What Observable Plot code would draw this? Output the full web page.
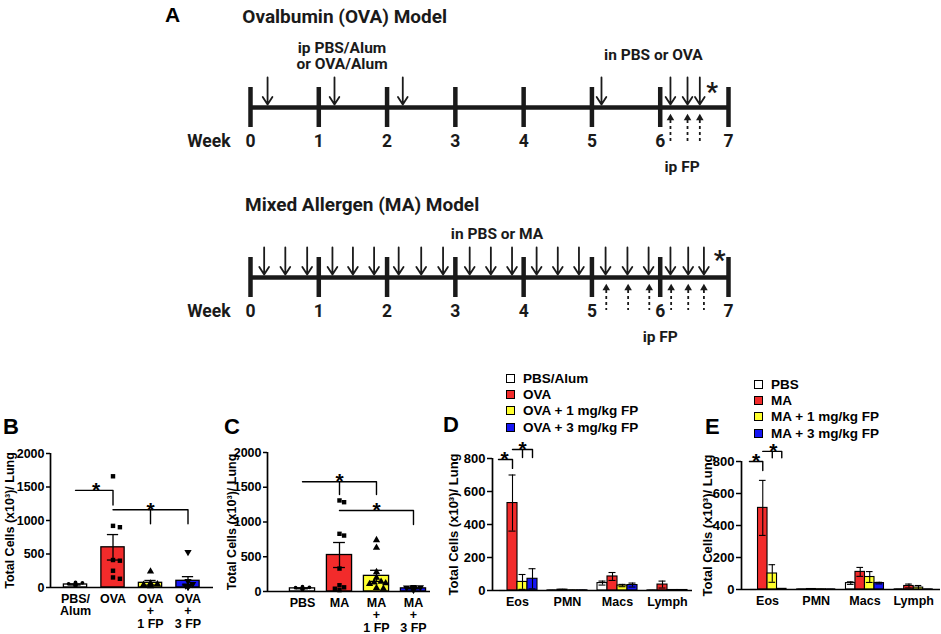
<!DOCTYPE html>
<html>
<head>
<meta charset="utf-8">
<script src="https://cdn.jsdelivr.net/npm/d3@7"></script>
<script src="https://cdn.jsdelivr.net/npm/@observablehq/plot@0.6"></script>
<style>
  html, body { margin: 0; padding: 0; background: #fff; }
  #fig { position: relative; width: 941px; height: 634px; overflow: hidden; background: #fff; color: #000;
         font-family: "Liberation Sans", Arial, sans-serif; font-weight: bold; }
  .letter { position: absolute; font-size: 22px; line-height: 22px; }
  .legend { position: absolute; font-size: 13.5px; }
  .legend .row { display: flex; align-items: center; height: 16.4px; white-space: nowrap; }
  .legend .sw { box-sizing: border-box; width: 9px; height: 9px; border: 1.4px solid #000; margin-right: 8px; }
</style>
</head>
<body>
<div id="fig"></div>
<script>
// ---------------- Panel A: study timelines ----------------
const weeks = [0, 1, 2, 3, 4, 5, 6, 7];
const ovaInjections = [0.25, 1.23, 2.23, 5.14, 6.15, 6.4, 6.58];
const ovaFPDoses = [6.15, 6.4, 6.58];
const maInjections = [0.2, 0.51, 0.83, 1.2, 1.5, 1.81, 2.17, 2.5, 2.82, 3.21, 3.52, 3.83,
                      4.19, 4.5, 4.81, 5.2, 5.52, 5.83, 6.15, 6.41, 6.64];
const maFPDoses = [5.21, 5.53, 5.84, 6.16, 6.41, 6.64];
const ovaTitle = "Ovalbumin (OVA) Model";
const maTitle = "Mixed Allergen (MA) Model";
const ovaNotes = ["ip PBS/Alum\nor OVA/Alum", "in PBS or OVA", "ip FP"];
const maNotes = ["in PBS or MA", "ip FP"];

// ---------------- Panels B, C: total cells ----------------
const ovaGroups = ["PBS/\nAlum", "OVA", "OVA\n+\n1 FP", "OVA\n+\n3 FP"];
const ovaTotalMean = [45, 600, 70, 100];
const ovaTotalSEM = [8, 190, 35, 62];
const ovaTotalPoints = [
  [75, 70, 55, 50, 45, 35, 30, 20],
  [1660, 920, 900, 410, 400, 250, 150, 130],
  [240, 60, 50, 40, 30, 25, 20],
  [530, 95, 50, 30, 20, 10, 10]
];
const ovaTotalBrackets = [
  [[0, 1450], [1, 1450], [1, 1230]],
  [[1, 1160], [3, 1160], [3, 950]],
  [[2, 1160], [2, 950]]
];
const ovaTotalStars = [[0.55, 1450], [2, 1160]];

const maGroups = ["PBS", "MA", "MA\n+\n1 FP", "MA\n+\n3 FP"];
const maTotalMean = [45, 525, 225, 45];
const maTotalSEM = [6, 180, 80, 6];
const maTotalPoints = [
  [70, 60, 55, 50, 45, 40, 35, 30, 25],
  [1310, 1285, 830, 805, 330, 90, 60, 40, 20],
  [740, 630, 280, 200, 140, 130, 120, 110, 50, 40],
  [65, 60, 55, 50, 45, 40, 35, 30, 25]
];
const maTotalBrackets = [
  [[0, 1580], [2, 1580], [2, 1395]],
  [[1, 1580], [1, 1395]],
  [[1, 1165], [3, 1165], [3, 965]]
];
const maTotalStars = [[1, 1580], [2, 1165]];

const totalTicks = [0, 500, 1000, 1500, 2000];
const groupColors = ["#ffffff", "#f22b2b", "#ffff2e", "#1616f5"];

// ---------------- Panels D, E: cell types ----------------
const cellTypes = ["Eos", "PMN", "Macs", "Lymph"];
const ovaSeries = ["PBS/Alum", "OVA", "OVA + 1 mg/kg FP", "OVA + 3 mg/kg FP"];
const maSeries = ["PBS", "MA", "MA + 1 mg/kg FP", "MA + 3 mg/kg FP"];
// rows = series, columns = cell types (Eos, PMN, Macs, Lymph)
const ovaCellMean = [[0, 0.5, 45, 0.5], [530, 5, 85, 36], [52, 1, 30, 3], [71, 1, 33, 3]];
const ovaCellSEM  = [[0, 0.3, 12, 0.3], [170, 2, 24, 21], [45, 0.5, 7, 1], [61, 0.5, 12, 1]];
const maCellMean  = [[0, 0.5, 40, 0.5], [510, 3, 110, 22], [100, 1, 78, 12], [4, 0.5, 40, 0.5]];
const maCellSEM   = [[0, 0.2, 8, 0.2], [172, 1, 28, 12], [55, 0.5, 34, 13], [1, 0.2, 5, 0.2]];
// brackets in [series index within the Eos group, value]
const ovaCellBrackets = [[[-0.4, 794], [1, 794], [1, 740]], [[1, 855], [3, 855], [3, 806]], [[2, 855], [2, 806]]];
const ovaCellStars = [[0.2, 794], [2, 855]];
const maCellBrackets = [[[-0.4, 800], [1, 800], [1, 744]], [[1, 863], [3, 863], [3, 823]], [[2, 863], [2, 823]]];
const maCellStars = [[0.3, 800], [2.1, 863]];
const cellTicks = [0, 200, 400, 600, 800];

const yLabel = "Total Cells (x10³)/ Lung";

// ---------------- helpers ----------------
const fig = document.getElementById("fig");
function put(node, left, top) {
  node.style.position = "absolute";
  node.style.left = left + "px";
  node.style.top = top + "px";
  fig.appendChild(node);
  return node;
}
const chartStyle = "font-family: 'Liberation Sans', Arial, sans-serif; font-size: 12px; font-weight: bold; background: transparent; color: #000; overflow: visible;";

const triangleDown = {
  draw(context, size) {
    const y = Math.sqrt(size / (Math.sqrt(3) * 3));
    context.moveTo(0, y * 2);
    context.lineTo(-Math.sqrt(3) * y, -y);
    context.lineTo(Math.sqrt(3) * y, -y);
    context.closePath();
  }
};
const groupSymbols = ["circle", "square", "triangle", triangleDown];
const groupRadius = [1.9, 2.5, 2.7, 2.7];

// simple horizontal dodge (pixel space) so overlapping points spread sideways
function dodge(values, yScale, maxOffset, step, minDist) {
  const placed = [];
  return values.map(v => {
    const py = yScale.apply(v);
    let best = 0;
    for (let k = 0; k < 80; k++) {
      const off = (k % 2 === 1 ? 1 : -1) * Math.ceil(k / 2) * step;
      if (Math.abs(off) > maxOffset) continue;
      if (placed.every(p => Math.hypot(p.x - off, p.y - py) >= minDist)) { best = off; break; }
    }
    placed.push({x: best, y: py});
    return best;
  });
}

function bracketRows(brackets, toX) {
  const out = [];
  brackets.forEach((b, id) => b.forEach(([x, v]) => out.push({id, x: toX(x), v})));
  return out;
}

// ---------------- Panel A ----------------
function panelA() {
  const ink = "#1a1a1a";
  const lanes = [
    {title: ovaTitle, titleX: -0.12, titleY: 16, line: 107, tickTop: 87, tickBot: 127,
     inj: ovaInjections, arrowTop: 77, arrowTip: 104, fp: ovaFPDoses, fpHead: 117.5, fpTail: 143,
     weekY: 141, star: [6.76, 92],
     notes: [[ovaNotes[0], 1.34, 55], [ovaNotes[1], 5.9, 54], [ovaNotes[2], 6.32, 166]]},
    {title: maTitle, titleX: -0.08, titleY: 204, line: 277, tickTop: 257, tickBot: 297,
     inj: maInjections, arrowTop: 247, arrowTip: 274, fp: maFPDoses, fpHead: 287.5, fpTail: 310,
     weekY: 310.5, star: [6.87, 260],
     notes: [[maNotes[0], 3.61, 233], [maNotes[1], 6.0, 336]]}
  ];
  const marks = [];
  for (const L of lanes) {
    marks.push(
      Plot.ruleY([L], {y: d => d.line, x1: () => weeks[0], x2: () => weeks[weeks.length - 1], strokeWidth: 4.5, stroke: ink}),
      Plot.ruleX(weeks, {x: d => d, y1: () => L.tickTop, y2: () => L.tickBot, strokeWidth: 4.5, stroke: ink}),
      Plot.arrow(L.inj, {x1: d => d, x2: d => d, y1: () => L.arrowTop, y2: () => L.arrowTip,
                         headLength: 9, headAngle: 65, strokeWidth: 1.8, stroke: ink}),
      Plot.ruleX(L.fp, {x: d => d, y1: () => L.fpHead + 2.5, y2: () => L.fpTail, strokeWidth: 1.8, strokeDasharray: "3,3", stroke: ink}),
      Plot.dot(L.fp, {x: d => d, y: () => L.fpHead, symbol: "triangle", r: 2.8, fill: ink, stroke: null}),
      Plot.text(weeks, {x: d => d, y: () => L.weekY, text: d => String(d), fontSize: 17.5}),
      Plot.text(["Week"], {x: () => weeks[0], y: () => L.weekY, text: d => d, dx: -20, textAnchor: "end", fontSize: 17.5}),
      Plot.text([L.title], {x: () => L.titleX, y: () => L.titleY, text: d => d, textAnchor: "start", fontSize: 19}),
      Plot.text(["*"], {x: () => L.star[0], y: () => L.star[1], text: d => d, fontSize: 26}),
      Plot.text(L.notes, {x: d => d[1], y: d => d[2], text: d => d[0], fontSize: 15.5, lineHeight: 1.08})
    );
  }
  return Plot.plot({
    width: 941, height: 350, margin: 0,
    x: {domain: [weeks[0], weeks[weeks.length - 1]], range: [250, 728], axis: null},
    y: {domain: [0, 350], range: [0, 350], axis: null},
    style: "font-family: Roboto, 'Liberation Sans', sans-serif; font-weight: bold; background: transparent; color: #1a1a1a; overflow: visible;",
    marks
  });
}

// ---------------- Panels B, C ----------------
function totalsPanel(c) {
  const {groups, means, sems, points, brackets, stars, width, height, m, xDomain, labelOffset, halfBar, halfCap} = c;
  const yDomain = [0, totalTicks[totalTicks.length - 1]];
  const yS = Plot.scale({y: {domain: yDomain, range: [height - m.bottom, m.top]}});
  const unit = (width - m.left - m.right) / (xDomain[1] - xDomain[0]);
  const rows = groups.map((g, i) => ({i, mean: means[i], sem: sems[i]}));
  const marks = [];
  rows.forEach((r, i) => marks.push(
    Plot.rect([r], {x1: d => d.i - halfBar, x2: d => d.i + halfBar, y1: () => 0, y2: "mean",
                    fill: groupColors[i], stroke: "#000", strokeWidth: 1.3})));
  marks.push(
    Plot.ruleX(rows, {x: "i", y1: d => d.mean - d.sem, y2: d => d.mean + d.sem, strokeWidth: 1.3}),
    Plot.ruleY(rows, {y: d => d.mean + d.sem, x1: d => d.i - halfCap, x2: d => d.i + halfCap, strokeWidth: 1.3}),
    Plot.ruleY(rows, {y: d => d.mean - d.sem, x1: d => d.i - halfCap, x2: d => d.i + halfCap, strokeWidth: 1.3})
  );
  points.forEach((vals, i) => {
    const offs = dodge(vals, yS, halfBar * unit - 3, 2.3, 4.8);
    const pts = vals.map((v, k) => ({x: i + offs[k] / unit, v}));
    marks.push(Plot.dot(pts, {x: "x", y: "v", symbol: groupSymbols[i], r: groupRadius[i], fill: "#000", stroke: null}));
  });
  marks.push(
    Plot.line(bracketRows(brackets, x => x), {x: "x", y: "v", z: "id", stroke: "#000", strokeWidth: 1.4}),
    Plot.text(stars, {x: d => d[0], y: d => d[1], text: () => "*", fontSize: 21}),
    Plot.ruleY([0], {strokeWidth: 1.7}),
    Plot.ruleX([xDomain[0]], {strokeWidth: 1.7}),
    Plot.axisY({ticks: totalTicks, tickFormat: d3.format("d"), tickSize: 4, tickPadding: 2, strokeWidth: 1.5,
                fontSize: 12.5, label: yLabel, labelAnchor: "center", labelOffset, labelArrow: "none"}),
    Plot.axisX({ticks: groups.map((g, i) => i), tickFormat: i => groups[i], tickSize: 0, tickPadding: 6,
                fontSize: 12.5, label: null, lineHeight: 1.02})
  );
  return Plot.plot({
    width, height, marginTop: m.top, marginRight: m.right, marginBottom: m.bottom, marginLeft: m.left,
    x: {domain: xDomain}, y: {domain: yDomain},
    style: chartStyle, marks
  });
}

// ---------------- Panels D, E ----------------
function cellsPanel(c) {
  const {means, sems, brackets, stars, width, height, m, xDomain, labelOffset, w} = c;
  const pos = (g, s) => g + (s - 1.5) * w;
  const yDomain = [0, cellTicks[cellTicks.length - 1]];
  const marks = [];
  means.forEach((row, s) => {
    const rows = cellTypes.map((ct, g) => ({x: pos(g, s), mean: row[g], sem: sems[s][g]}));
    marks.push(
      Plot.rect(rows, {x1: d => d.x - w / 2, x2: d => d.x + w / 2, y1: () => 0, y2: "mean",
                       fill: groupColors[s], stroke: "#000", strokeWidth: 1.1}),
      Plot.ruleX(rows, {x: "x", y1: d => Math.max(0, d.mean - d.sem), y2: d => d.mean + d.sem, strokeWidth: 1.1}),
      Plot.ruleY(rows, {y: d => d.mean + d.sem, x1: d => d.x - w * 0.35, x2: d => d.x + w * 0.35, strokeWidth: 1.1}),
      Plot.ruleY(rows.filter(d => d.mean - d.sem > 0), {y: d => d.mean - d.sem, x1: d => d.x - w * 0.35, x2: d => d.x + w * 0.35, strokeWidth: 1.1})
    );
  });
  marks.push(
    Plot.line(bracketRows(brackets, s => pos(0, s)), {x: "x", y: "v", z: "id", stroke: "#000", strokeWidth: 1.4}),
    Plot.text(stars, {x: d => pos(0, d[0]), y: d => d[1], text: () => "*", fontSize: 21}),
    Plot.ruleY([0], {strokeWidth: 1.7}),
    Plot.ruleX([xDomain[0]], {strokeWidth: 1.7}),
    Plot.axisY({ticks: cellTicks, tickFormat: d3.format("d"), tickSize: 5, tickPadding: 2, strokeWidth: 1.5,
                fontSize: 13, label: yLabel, labelAnchor: "center", labelOffset, labelArrow: "none"}),
    Plot.axisX({ticks: cellTypes.map((ct, i) => i), tickFormat: i => cellTypes[i], tickSize: 0, tickPadding: 7,
                fontSize: 12.5, label: null})
  );
  return Plot.plot({
    width, height, marginTop: m.top, marginRight: m.right, marginBottom: m.bottom, marginLeft: m.left,
    x: {domain: xDomain}, y: {domain: yDomain},
    style: chartStyle, marks
  });
}

function legend(names, left, top) {
  const div = document.createElement("div");
  div.className = "legend";
  names.forEach((n, i) => {
    const row = document.createElement("div");
    row.className = "row";
    const sw = document.createElement("span");
    sw.className = "sw";
    sw.style.background = groupColors[i];
    const t = document.createElement("span");
    t.textContent = n;
    row.appendChild(sw); row.appendChild(t);
    div.appendChild(row);
  });
  return put(div, left, top);
}
function letter(ch, left, top, size) {
  const d = document.createElement("div");
  d.className = "letter";
  d.textContent = ch;
  if (size) { d.style.fontSize = size + "px"; d.style.lineHeight = size + "px"; }
  return put(d, left, top);
}

// ---------------- compose ----------------
put(panelA(), 0, 0);

put(totalsPanel({groups: ovaGroups, means: ovaTotalMean, sems: ovaTotalSEM, points: ovaTotalPoints,
  brackets: ovaTotalBrackets, stars: ovaTotalStars, width: 220, height: 204,
  m: {top: 23, right: 7, bottom: 47, left: 50}, xDomain: [-0.667, 3.68], labelOffset: 45, halfBar: 0.31, halfCap: 0.15}), 0, 430);

put(totalsPanel({groups: maGroups, means: maTotalMean, sems: maTotalSEM, points: maTotalPoints,
  brackets: maTotalBrackets, stars: maTotalStars, width: 220, height: 204,
  m: {top: 22, right: 10, bottom: 43, left: 47}, xDomain: [-0.946, 3.46], labelOffset: 40, halfBar: 0.34, halfCap: 0.16}), 220, 430);

put(cellsPanel({means: ovaCellMean, sems: ovaCellSEM, brackets: ovaCellBrackets, stars: ovaCellStars,
  width: 260, height: 214, m: {top: 38, right: 8, bottom: 44, left: 52}, xDomain: [-0.5, 3.5],
  labelOffset: 44, w: 0.2}), 440, 420);

put(cellsPanel({means: maCellMean, sems: maCellSEM, brackets: maCellBrackets, stars: maCellStars,
  width: 241, height: 214, m: {top: 41, right: 1, bottom: 45, left: 41}, xDomain: [-0.534, 3.55],
  labelOffset: 39, w: 0.195}), 700, 420);

legend(ovaSeries, 506, 370);
legend(maSeries, 754, 376);

letter("A", 165, 4, 21);
letter("B", 3, 416);
letter("C", 224, 416);
letter("D", 443, 414);
letter("E", 705, 416);
</script>
</body>
</html>
